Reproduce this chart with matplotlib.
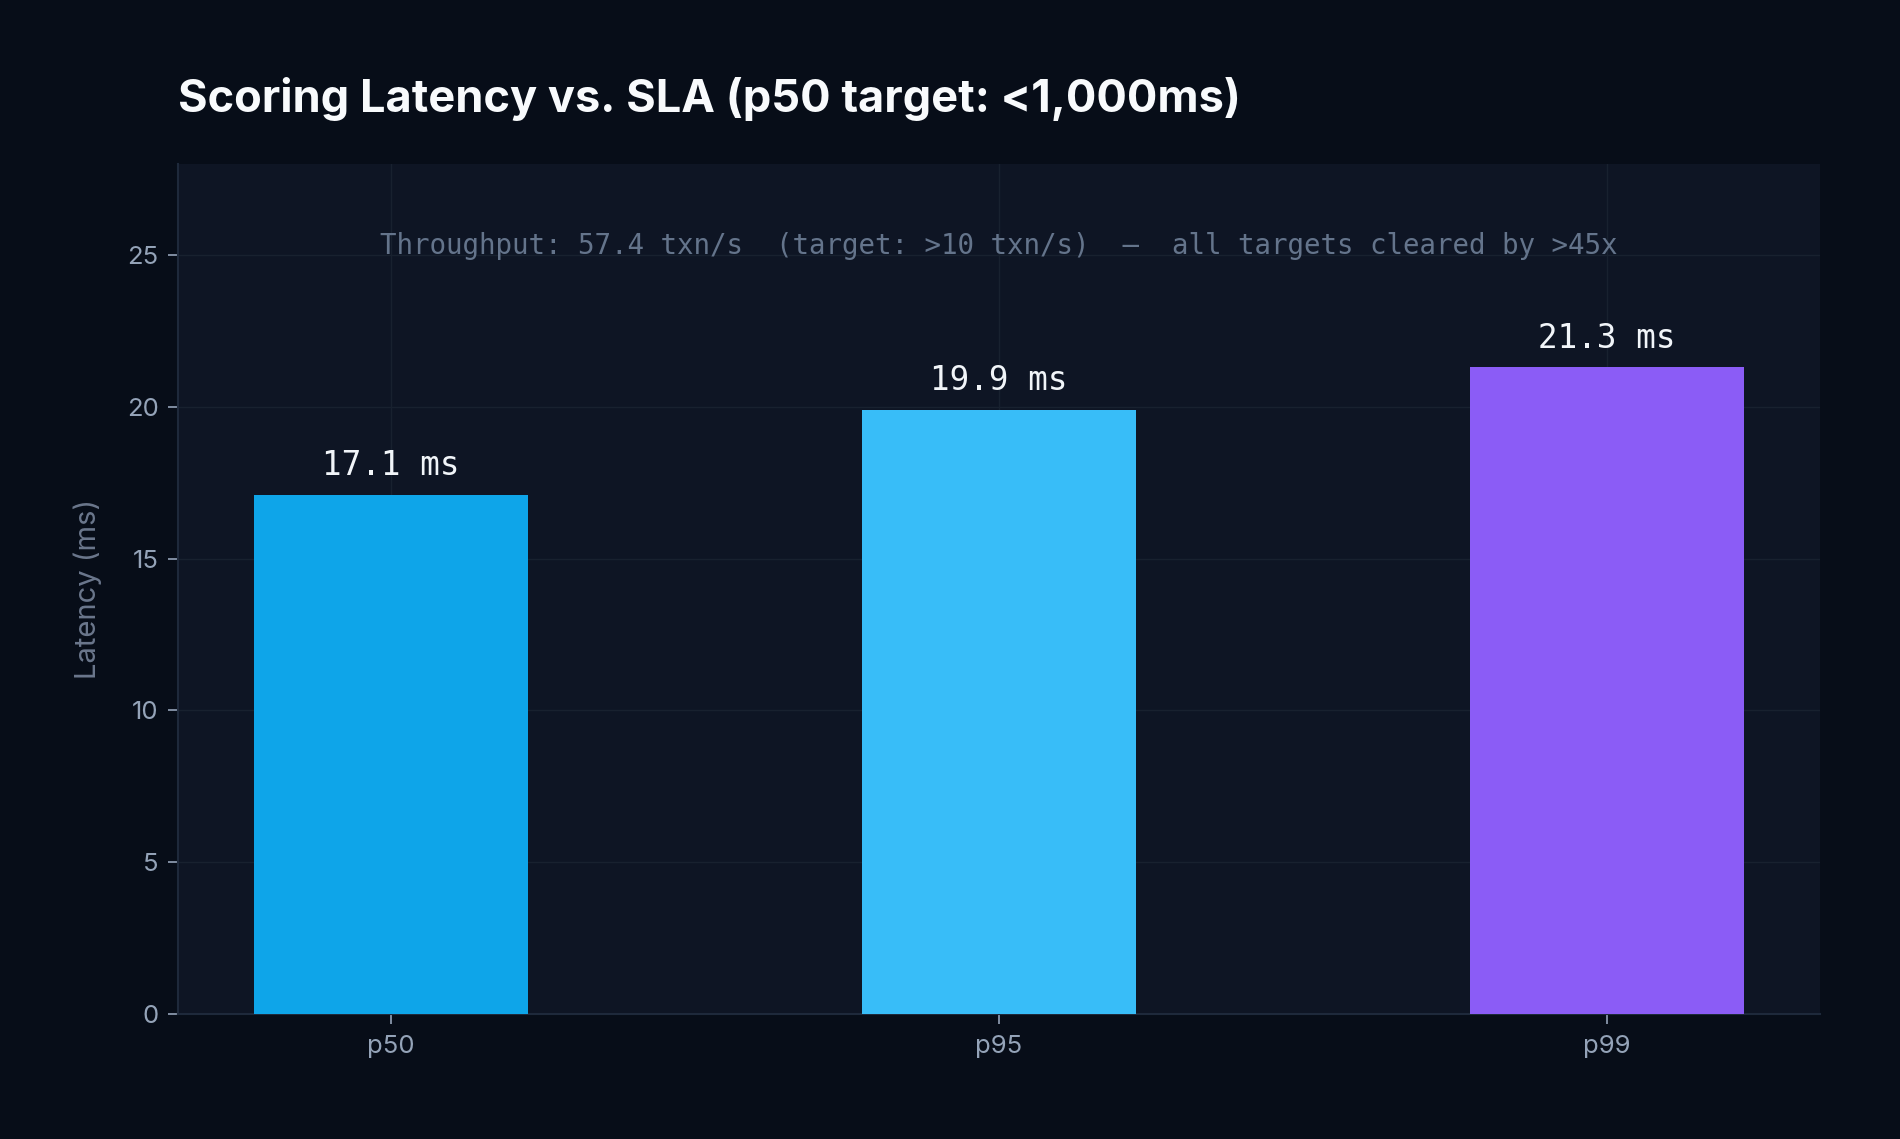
import matplotlib
matplotlib.use("Agg")
import matplotlib.pyplot as plt

categories = ["p50", "p95", "p99"]
latency_ms = [17.1, 19.9, 21.3]
bar_colors = ["#0ea5e9", "#38bdf8", "#8b5cf6"]
yticks = [0, 5, 10, 15, 20, 25]
title = "Scoring Latency vs. SLA (p50 target: <1,000ms)"
note = "Throughput: 57.4 txn/s  (target: >10 txn/s)  \u2014  all targets cleared by >45x"

FIG_BG = "#070d18"
AX_BG = "#0e1524"
GRID = "#18212f"
SPINE = "#1e293b"
TICK = "#94a3b8"

fig = plt.figure(figsize=(19, 11.39), dpi=100, facecolor=FIG_BG)
ax = fig.add_axes([178 / 1900, 1 - 1014 / 1139, (1820 - 178) / 1900, (1014 - 164) / 1139])
ax.set_facecolor(AX_BG)

x = list(range(len(categories)))
bars = ax.bar(x, latency_ms, width=0.45, color=bar_colors, zorder=3)

ax.set_xlim(-0.35, 2.35)
ax.set_ylim(0, 28)
ax.set_xticks(x)
ax.set_xticklabels(categories)
ax.set_yticks(yticks)
ax.grid(True, color=GRID, linewidth=1.0, zorder=0)
ax.set_axisbelow(True)

for s in ["top", "right"]:
    ax.spines[s].set_visible(False)
for s in ["left", "bottom"]:
    ax.spines[s].set_color(SPINE)
    ax.spines[s].set_linewidth(1.5)

ax.tick_params(colors=TICK, labelsize=18.5, length=7, width=1.2, pad=7)
ax.tick_params(axis="x", pad=8)
for lbl in ax.get_xticklabels() + ax.get_yticklabels():
    lbl.set_fontfamily("Inter")
    lbl.set_color(TICK)
for t in ax.xaxis.get_ticklines() + ax.yaxis.get_ticklines():
    t.set_color("#64748b")

ax.set_ylabel("Latency (ms)", fontsize=21, color="#6b778c", family="Inter", labelpad=18)

for xi, v in zip(x, latency_ms):
    ax.annotate(f"{v} ms", (xi, v), xytext=(0, 9), textcoords="offset points",
                ha="center", va="bottom", fontsize=23.5, color="#f1f5f9",
                family="DejaVu Sans Mono")

ax.text(0.5, 0.903, note, transform=ax.transAxes, ha="center", va="center",
        fontsize=19.8, color="#64748b", family="DejaVu Sans Mono")

fig.text(178 / 1900, 1 - 99 / 1139, title, ha="left", va="center",
         fontsize=32.5, fontweight="bold", color="#f8fafc", family="Inter")

fig.savefig("out.png", dpi=100, facecolor=FIG_BG)
